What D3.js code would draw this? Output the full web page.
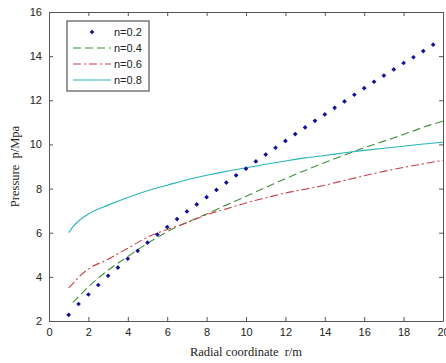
<!DOCTYPE html>
<html>
<head>
<meta charset="utf-8">
<script src="https://d3js.org/d3.v7.min.js"></script>
<style>
    body { margin: 0; background: #fff; }
    .tick text { font-family: "Liberation Sans", Arial, sans-serif; font-size: 11px; fill: #222; }
    .axis path, .axis line { stroke: #555; }
    .label { font-family: "Liberation Serif", "Times New Roman", serif; font-size: 12.5px; fill: #222; white-space: pre; }
    .legend text { font-family: "Liberation Sans", Arial, sans-serif; font-size: 11px; fill: #222; }
</style>
</head>
<body>
<div id="container"></div>
<script>
//-----------------------------DATA-----------------------------//
// n=0.2 dots, every 0.5 m
var rDots = [1, 1.5, 2, 2.5, 3, 3.5, 4, 4.5, 5, 5.5, 6, 6.5, 7, 7.5, 8, 8.5, 9, 9.5, 10, 10.5,
    11, 11.5, 12, 12.5, 13, 13.5, 14, 14.5, 15, 15.5, 16, 16.5, 17, 17.5, 18, 18.5, 19, 19.5];
var pN02 = [2.28, 2.77, 3.2, 3.63, 4.05, 4.42, 4.82, 5.18, 5.55, 5.92, 6.26, 6.62, 6.96, 7.28, 7.61, 7.94, 8.27, 8.6, 8.9, 9.23,
    9.54, 9.85, 10.16, 10.47, 10.77, 11.07, 11.36, 11.66, 11.95, 12.25, 12.55, 12.84, 13.12, 13.4, 13.69, 13.95, 14.23, 14.52];

// line series
var rLine = [1, 1.2, 1.5, 2, 3, 4, 5, 6, 7, 8, 9, 10, 11, 12, 13, 14, 15, 16, 17, 18, 19, 20];
var pN04 = [null, 2.83, 3.1, 3.55, 4.3, 4.92, 5.52, 6.05, 6.47, 6.85, 7.25, 7.65, 8.05, 8.45, 8.82, 9.18, 9.52, 9.85, 10.15, 10.45, 10.78, 11.05];
var pN06 = [3.5, 3.68, 3.98, 4.35, 4.8, 5.3, 5.8, 6.15, 6.45, 6.82, 7.08, 7.35, 7.58, 7.8, 7.97, 8.15, 8.37, 8.58, 8.78, 8.96, 9.12, 9.28];
var pN08 = [6.0, 6.25, 6.53, 6.85, 7.25, 7.6, 7.9, 8.15, 8.4, 8.6, 8.78, 8.94, 9.1, 9.25, 9.39, 9.5, 9.62, 9.73, 9.83, 9.92, 10.02, 10.1];

var xTicks = [0, 2, 4, 6, 8, 10, 12, 14, 16, 18, 20];
var yTicks = [2, 4, 6, 8, 10, 12, 14, 16];
var legendNames = ["n=0.2", "n=0.4", "n=0.6", "n=0.8"];

//------------------------------SVG-----------------------------//
var width = 446;
var height = 363;
var mLeft = 49, mRight = 443, mTop = 12, mBottom = 321;

var svg = d3.select("div#container").append("svg")
    .attr("width", width)
    .attr("height", height);

//----------------------------SCALES----------------------------//
var xScale = d3.scaleLinear().domain([0, 20]).range([mLeft, mRight]);
var yScale = d3.scaleLinear().domain([2, 16]).range([mBottom, mTop]);

//-----------------------------AXES-----------------------------//
var tick = 4;
svg.append("g")
    .attr("class", "axis")
    .attr("transform", "translate(0," + mBottom + ")")
    .call(d3.axisBottom(xScale).tickValues(xTicks).tickSizeInner(-tick).tickSizeOuter(0).tickPadding(7));
svg.append("g")
    .attr("class", "axis")
    .attr("transform", "translate(0," + mTop + ")")
    .call(d3.axisTop(xScale).tickValues(xTicks).tickSizeInner(-tick).tickSizeOuter(0).tickFormat(""));
svg.append("g")
    .attr("class", "axis")
    .attr("transform", "translate(" + mLeft + ",0)")
    .call(d3.axisLeft(yScale).tickValues(yTicks).tickSizeInner(-tick).tickSizeOuter(0).tickPadding(7));
svg.append("g")
    .attr("class", "axis")
    .attr("transform", "translate(" + mRight + ",0)")
    .call(d3.axisRight(yScale).tickValues(yTicks).tickSizeInner(-tick).tickSizeOuter(0).tickFormat(""));

svg.append("text")
    .attr("class", "label")
    .attr("x", (mLeft + mRight) / 2)
    .attr("y", 356)
    .attr("text-anchor", "middle")
    .text("Radial coordinate  r/m");

svg.append("text")
    .attr("class", "label")
    .attr("transform", "translate(19," + (mTop + mBottom) / 2 + ") rotate(-90)")
    .attr("text-anchor", "middle")
    .text("Pressure  p/Mpa");

//----------------------------LINES-----------------------------//
var series = [
    { name: legendNames[1], values: pN04, color: "#3f8f3f", dash: "8,4" },
    { name: legendNames[2], values: pN06, color: "#c8404a", dash: "8,3,2,3" },
    { name: legendNames[3], values: pN08, color: "#27b5b8", dash: null }
];

var line = d3.line()
    .defined(function (d) { return d != null; })
    .x(function (d, i) { return xScale(rLine[i]); })
    .y(function (d) { return yScale(d); })
    .curve(d3.curveMonotoneX);

svg.selectAll(".series")
    .data(series)
    .enter()
    .append("path")
    .attr("class", "series")
    .attr("fill", "none")
    .attr("stroke", function (d) { return d.color; })
    .attr("stroke-width", 1.1)
    .attr("stroke-dasharray", function (d) { return d.dash; })
    .attr("d", function (d) { return line(d.values); });

// small square turned 45 degrees, like the blobs in the picture
var dotColor = "#10109a";
var marker = d3.symbol().type(d3.symbolSquare).size(11);
svg.selectAll(".dot")
    .data(pN02)
    .enter()
    .append("path")
    .attr("class", "dot")
    .attr("transform", function (d, i) { return "translate(" + xScale(rDots[i]) + "," + yScale(d) + ") rotate(45)"; })
    .attr("d", marker)
    .attr("fill", dotColor);

//----------------------------LEGEND----------------------------//
var legend = svg.append("g").attr("class", "legend");
legend.append("rect")
    .attr("x", 67).attr("y", 21)
    .attr("width", 82).attr("height", 70)
    .attr("fill", "#fff")
    .attr("stroke", "#333");

var rowY = [32, 48, 64, 80];
legend.append("path")
    .attr("transform", "translate(92," + rowY[0] + ") rotate(45)")
    .attr("d", marker)
    .attr("fill", dotColor);

series.forEach(function (s, i) {
    legend.append("line")
        .attr("x1", 73).attr("x2", 111)
        .attr("y1", rowY[i + 1]).attr("y2", rowY[i + 1])
        .attr("stroke", s.color)
        .attr("stroke-width", 1.1)
        .attr("stroke-dasharray", s.dash);
});

legend.selectAll("text")
    .data(legendNames)
    .enter()
    .append("text")
    .attr("x", 114)
    .attr("y", function (d, i) { return rowY[i] + 4; })
    .text(function (d) { return d; });
</script>
</body>
</html>
